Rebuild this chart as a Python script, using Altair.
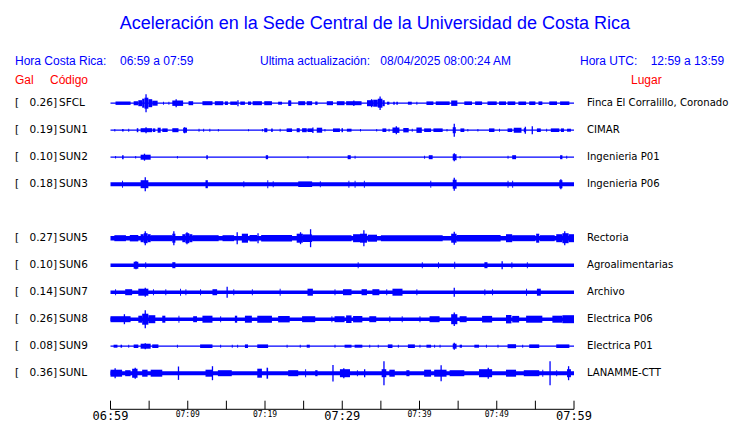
import altair as alt
import pandas as pd

BLUE = "#0000ff"
RED = "#ff0000"

# ---------------- data ----------------
TITLE = "Aceleración en la Sede Central de la Universidad de Costa Rica"
HDR_CR_LABEL = "Hora Costa Rica:"
HDR_CR_RANGE = "06:59 a 07:59"
HDR_UPD_LABEL = "Ultima actualización:"
HDR_UPD_VALUE = "08/04/2025 08:00:24 AM"
HDR_UTC_LABEL = "Hora UTC:"
HDR_UTC_RANGE = "12:59 a 13:59"

CODES = ["SFCL", "SUN1", "SUN2", "SUN3", "SUN5", "SUN6", "SUN7", "SUN8", "SUN9", "SUNL"]
GAL = [0.26, 0.19, 0.10, 0.18, 0.27, 0.10, 0.14, 0.26, 0.08, 0.36]
PLACES = ["Finca El Corralillo, Coronado", "CIMAR", "Ingenieria P01", "Ingenieria P06",
          "Rectoria", "Agroalimentarias", "Archivo", "Electrica P06", "Electrica P01", "LANAMME-CTT"]
ROWS = [0, 1, 2, 3, 5, 6, 7, 8, 9, 10]          # row slot (slot 4 is empty)
BASE_AMP = [0.6, 0.6, 0.6, 2.0, 2.3, 1.7, 1.7, 1.7, 0.6, 2.0]   # background noise half-amplitude
AMP_PER_ROW = 27.0                                # amplitude units per row slot

# bursts: (start minute, end minute, half amplitude); minutes from 06:59
SEG_SFCL = [(0.65, 2.6, 1.7), (3.0, 3.6, 2.0), (3.6, 4.1, 3.0), (4.1, 4.4, 4.5), (4.4, 4.9, 5.5),
            (4.9, 5.4, 4.0), (5.4, 6.1, 2.5), (6.8, 6.9, 1.5),
            (7.5, 7.6, 1.5), (8.0, 9.4, 2.7), (10.1, 10.7, 2.0), (11.9, 13.2, 2.0), (13.5, 14.6, 2.0),
            (14.8, 15.2, 1.8), (15.5, 16.4, 1.7), (16.8, 17.4, 1.7), (17.8, 18.2, 1.7), (18.4, 19.6, 2.0),
            (19.9, 20.9, 2.0), (21.7, 22.2, 1.5), (23.0, 23.4, 2.7), (24.3, 25.2, 2.0), (25.4, 26.1, 2.0),
            (26.5, 26.8, 1.7), (28.0, 28.8, 2.0), (29.3, 30.3, 2.0), (30.5, 32.5, 2.0),
            (33.2, 34.0, 3.0), (34.0, 34.6, 3.5), (34.6, 35.2, 4.5), (35.2, 35.5, 3.0),
            (35.8, 36.1, 1.5), (36.6, 36.8, 1.5), (37.0, 37.2, 1.5), (38.5, 39.0, 1.5), (39.6, 39.7, 1.5),
            (40.9, 41.8, 1.8), (42.1, 43.9, 1.8), (44.1, 44.9, 2.7), (45.8, 46.8, 1.8), (47.2, 48.1, 1.8),
            (48.8, 50.0, 1.8), (50.3, 51.2, 1.8), (51.4, 52.4, 1.8), (52.8, 53.8, 1.8), (54.2, 55.0, 1.8),
            (55.4, 55.9, 1.8), (56.8, 57.8, 1.8), (58.2, 59.4, 1.8)]
SPK_SFCL = [(4.6, 9.0), (8.5, 4.0), (16.5, 3.0), (23.2, 2.7), (31.5, 2.7), (33.8, 4.0), (34.9, 6.7)]

SEG_SUN1 = [(0.5, 0.6, 1.2), (1.5, 1.7, 1.2), (2.3, 2.4, 1.5), (3.4, 3.6, 2.0), (3.9, 5.4, 2.0),
            (5.5, 5.8, 1.8), (6.1, 6.5, 2.5), (6.7, 7.4, 1.8), (8.0, 8.8, 2.0), (9.4, 9.9, 2.5),
            (11.4, 11.5, 1.5), (12.0, 12.1, 1.5), (12.8, 12.9, 1.5), (13.9, 14.0, 1.2), (17.8, 17.9, 1.0),
            (19.6, 19.7, 1.2), (19.9, 20.3, 2.0), (20.8, 21.0, 1.8), (21.9, 22.0, 1.5), (22.8, 23.5, 1.8),
            (24.1, 24.5, 2.0), (24.8, 25.4, 2.0), (25.5, 26.2, 1.8), (26.7, 27.4, 2.5), (27.7, 27.8, 1.2),
            (28.8, 29.7, 1.8), (29.9, 30.1, 2.0), (30.6, 31.2, 1.5), (32.3, 32.4, 1.2), (34.4, 34.5, 1.2),
            (35.2, 35.7, 1.8), (36.0, 36.1, 1.5), (36.5, 37.4, 2.7), (37.9, 38.6, 2.2), (39.0, 39.1, 1.5),
            (39.6, 40.3, 2.7), (40.6, 41.5, 1.8), (41.8, 43.0, 1.8), (43.5, 43.6, 1.2), (44.3, 44.7, 3.0),
            (45.3, 45.8, 1.8), (46.2, 46.3, 1.2), (47.5, 47.6, 1.2), (49.0, 49.7, 1.8), (50.3, 50.4, 1.5),
            (51.4, 52.0, 1.8), (52.2, 53.2, 2.5), (53.5, 53.8, 2.0), (55.2, 55.7, 1.8), (56.4, 56.5, 1.5),
            (57.0, 58.1, 1.8), (58.3, 58.7, 1.8), (59.1, 59.6, 1.5)]
SPK_SUN1 = [(4.6, 3.0), (9.6, 3.0), (26.2, 2.8), (37.0, 4.0), (44.5, 6.5), (53.7, 3.5), (54.6, 4.0)]

SEG_SUN2 = [(0.6, 0.7, 1.2), (1.5, 1.7, 2.0), (3.2, 3.3, 1.2), (3.9, 5.2, 2.5), (8.6, 8.7, 1.2),
            (12.4, 12.6, 2.0), (20.1, 20.4, 2.0), (25.5, 25.6, 1.2), (30.7, 31.1, 2.0), (31.6, 31.7, 1.5),
            (40.6, 40.7, 1.5), (41.2, 41.7, 2.0), (44.3, 44.8, 3.0), (45.2, 45.3, 1.2), (51.4, 51.5, 1.5),
            (52.0, 52.5, 2.0), (58.2, 58.5, 2.0), (59.0, 59.1, 1.5)]
SPK_SUN2 = [(4.4, 3.5), (44.5, 4.0)]

SEG_SUN3 = [(1.5, 1.6, 3.5), (3.9, 4.9, 4.0), (12.3, 12.6, 4.0), (17.2, 17.3, 3.0), (20.3, 20.4, 4.0),
            (21.0, 21.1, 3.0), (24.3, 26.1, 2.8), (27.1, 27.2, 3.0), (30.8, 30.9, 3.5), (31.6, 31.7, 3.5),
            (32.8, 32.9, 3.5), (41.4, 41.5, 3.5), (44.3, 44.8, 4.5), (51.4, 51.5, 3.5), (52.0, 52.1, 3.5),
            (58.1, 58.5, 4.0)]
SPK_SUN3 = [(4.5, 7.0), (44.5, 6.5), (58.3, 5.0)]

SEG_SUN5 = [(0.5, 2.0, 3.0), (2.5, 3.6, 3.2), (3.9, 4.3, 4.0), (4.3, 4.8, 5.0), (4.8, 5.2, 4.0),
            (5.2, 8.0, 3.0), (8.0, 8.4, 4.5),
            (9.3, 9.7, 4.0), (9.7, 10.2, 5.0), (10.2, 10.6, 4.0), (10.6, 14.0, 3.0), (14.5, 16.0, 3.0),
            (17.0, 17.8, 4.5), (18.0, 19.0, 3.2),
            (19.5, 23.5, 3.2), (24.1, 24.9, 4.5), (24.9, 26.1, 3.8), (26.1, 31.2, 3.0),
            (31.4, 32.3, 4.0), (32.3, 33.2, 4.5), (33.3, 34.5, 3.5),
            (35.0, 43.0, 3.0), (44.1, 44.8, 4.5), (44.8, 50.5, 3.3), (51.2, 52.0, 4.0), (52.0, 55.0, 3.0),
            (55.1, 55.5, 4.5), (55.6, 57.5, 3.0), (57.7, 58.5, 4.0), (58.5, 59.3, 5.0), (59.3, 60.0, 4.0)]
SPK_SUN5 = [(4.5, 7.0), (8.2, 7.0), (9.9, 6.0), (16.4, 6.0), (19.1, 5.0), (24.6, 6.0), (25.9, 9.0),
            (32.8, 8.0), (44.5, 6.5), (58.8, 7.0)]

SEG_SUN6 = [(3.0, 3.6, 3.5), (4.5, 4.6, 3.0), (8.0, 8.4, 3.0), (32.0, 32.1, 3.0), (40.3, 40.4, 3.0),
            (42.4, 42.5, 3.0), (44.5, 44.6, 3.5), (48.4, 48.8, 3.0), (51.9, 52.0, 3.0), (53.9, 54.0, 3.0)]
SPK_SUN6 = [(3.3, 4.0), (50.7, 4.0)]

SEG_SUN7 = [(0.6, 0.7, 3.0), (1.9, 2.8, 3.0), (3.6, 4.9, 3.5), (5.5, 5.6, 3.0), (7.1, 7.2, 3.0),
            (9.0, 9.1, 3.5), (9.7, 9.8, 3.0), (11.6, 11.7, 3.0), (13.2, 13.8, 3.0), (15.9, 16.0, 3.0),
            (18.3, 18.4, 3.0), (21.9, 22.0, 3.5), (25.5, 26.2, 3.5), (29.0, 29.1, 3.0), (30.1, 31.2, 3.0),
            (32.5, 33.2, 3.0), (33.9, 34.8, 3.0), (35.7, 35.8, 3.0), (36.5, 37.8, 3.5), (39.6, 39.7, 3.0),
            (48.4, 48.5, 3.0), (49.4, 49.5, 3.0), (53.8, 53.9, 3.5), (55.2, 55.7, 3.5)]
SPK_SUN7 = [(4.5, 4.5), (15.1, 5.5), (44.5, 4.5)]

SEG_SUN8 = [(0.0, 2.6, 3.0), (3.6, 4.1, 3.5), (4.1, 4.9, 5.5), (4.9, 5.8, 4.0), (6.7, 7.1, 3.5),
            (8.8, 8.9, 3.5), (10.7, 11.2, 3.0),
            (11.9, 13.2, 3.5), (14.2, 14.3, 3.0), (16.1, 16.4, 3.5), (17.4, 18.3, 3.5), (19.0, 20.9, 3.5),
            (21.7, 23.2, 3.2), (24.8, 26.5, 3.0), (28.6, 28.7, 3.0), (29.0, 30.3, 3.0), (30.5, 31.2, 3.8),
            (31.4, 32.6, 3.2), (33.5, 34.4, 3.0), (36.1, 36.2, 3.0), (37.7, 37.8, 3.0), (40.0, 40.1, 3.0),
            (41.3, 42.6, 3.0), (44.1, 44.9, 5.0), (45.2, 46.1, 3.0), (48.1, 49.4, 3.3), (51.2, 51.9, 4.2),
            (52.0, 52.9, 3.3), (53.8, 55.9, 3.5), (57.2, 58.5, 3.5), (58.5, 60.0, 4.0)]
SPK_SUN8 = [(1.8, 5.0), (4.5, 9.0), (44.5, 6.7)]

SEG_SUN9 = [(0.4, 0.9, 1.5), (1.3, 1.5, 1.5), (2.3, 2.4, 1.5), (3.0, 3.6, 1.8), (3.9, 5.2, 2.5),
            (5.4, 6.2, 1.8), (8.6, 8.7, 1.5), (11.6, 13.2, 1.8), (14.2, 14.3, 1.5), (15.7, 15.8, 1.5),
            (16.4, 16.5, 1.5), (17.4, 17.8, 1.8), (19.0, 20.4, 1.8), (22.8, 22.9, 1.5), (24.5, 24.6, 1.5),
            (25.4, 25.8, 1.5), (29.0, 29.1, 1.5), (30.3, 31.2, 1.5), (31.6, 32.6, 1.5), (33.5, 33.6, 1.5),
            (34.6, 34.7, 1.5), (35.9, 36.5, 1.8), (37.2, 37.3, 1.5), (38.5, 39.4, 1.8), (40.0, 40.1, 1.5),
            (40.9, 41.5, 1.5), (41.9, 42.0, 1.5), (42.6, 42.7, 1.5), (44.3, 44.8, 2.5), (45.2, 45.5, 1.5),
            (47.1, 47.7, 1.5), (48.6, 48.7, 1.5), (50.1, 50.2, 1.5), (51.4, 52.5, 2.0), (53.3, 53.4, 1.5),
            (54.2, 55.5, 1.8), (57.7, 59.4, 1.8)]
SPK_SUN9 = [(4.5, 3.0), (44.5, 3.5)]

SEG_SUNL = [(0.0, 1.5, 3.5), (1.9, 2.6, 3.0), (2.8, 3.5, 4.5), (4.1, 4.8, 3.5), (5.2, 6.7, 3.5),
            (12.3, 13.2, 3.5), (13.9, 15.7, 3.0), (19.0, 19.6, 4.5), (20.2, 20.4, 5.5), (23.0, 24.3, 3.0),
            (25.2, 25.3, 4.0), (26.5, 26.8, 3.0), (29.7, 31.0, 4.0), (31.9, 32.0, 3.0), (35.1, 35.7, 4.0),
            (36.1, 36.8, 3.5), (38.3, 38.7, 3.0), (40.6, 41.5, 3.5), (41.9, 43.5, 3.5), (43.9, 45.8, 3.0),
            (47.7, 49.4, 4.0), (51.2, 52.5, 3.5), (53.5, 55.5, 3.0), (55.9, 56.0, 3.5), (57.7, 57.8, 3.0),
            (59.1, 59.6, 4.0)]
SPK_SUNL = [(0.6, 5.0), (3.2, 5.5), (8.8, 6.7), (13.2, 7.0), (28.8, 8.3), (30.2, 5.0), (32.9, 4.0),
            (35.4, 12.0), (42.8, 8.0), (48.9, 5.5), (56.9, 12.0), (59.3, 7.0)]

SEGS = [SEG_SFCL, SEG_SUN1, SEG_SUN2, SEG_SUN3, SEG_SUN5, SEG_SUN6, SEG_SUN7, SEG_SUN8, SEG_SUN9, SEG_SUNL]
SPKS = [SPK_SFCL, SPK_SUN1, SPK_SUN2, SPK_SUN3, SPK_SUN5, SPK_SUN6, SPK_SUN7, SPK_SUN8, SPK_SUN9, SPK_SUNL]

TICK_MIN = list(range(0, 61, 5))
BIG_TICK_MIN = [0, 30, 60]
BIG_TICK_LBL = ["06:59", "07:29", "07:59"]
SMALL_TICK_MIN = [10, 20, 40, 50]
SMALL_TICK_LBL = ["07:09", "07:19", "07:39", "07:49"]
SPAN = [0, 60]

# ---------------- tables ----------------
base_rows, seg_rows, spk_rows, lab_rows = [], [], [], []
for code, gal, place, row, base, segs, spks in zip(CODES, GAL, PLACES, ROWS, BASE_AMP, SEGS, SPKS):
    base_rows.append(dict(t0=SPAN[0], t1=SPAN[1], y0=row - base / AMP_PER_ROW, y1=row + base / AMP_PER_ROW))
    for t0, t1, a in segs:
        seg_rows.append(dict(t0=t0, t1=max(t1, t0 + 0.12), y0=row - a / AMP_PER_ROW, y1=row + a / AMP_PER_ROW))
    for t, a in spks:
        spk_rows.append(dict(t=t, y0=row - a / AMP_PER_ROW, y1=row + a / AMP_PER_ROW))
    lab_rows.append(dict(row=row, code=code, gal=f"{gal:.2f}]", place=place))

base_df = pd.DataFrame(base_rows)
seg_df = pd.DataFrame(seg_rows)
spk_df = pd.DataFrame(spk_rows)
lab_df = pd.DataFrame(lab_rows)
tick_df = pd.DataFrame({"t": TICK_MIN})
big_df = pd.DataFrame({"t": BIG_TICK_MIN, "lbl": BIG_TICK_LBL})
small_df = pd.DataFrame({"t": SMALL_TICK_MIN, "lbl": SMALL_TICK_LBL})
span_df = pd.DataFrame({"t0": [SPAN[0]], "t1": [SPAN[1]]})

# ---------------- scales (whole view) ----------------
W, H = 724, 415
X0_PX, PX_PER_MIN = 102.5, 463.5 / 60
Y0_PX, PX_PER_ROW = 95.2, 27.0
xs = alt.Scale(domain=[-X0_PX / PX_PER_MIN, (W - X0_PX) / PX_PER_MIN], nice=False, zero=False)
ys = alt.Scale(domain=[-Y0_PX / PX_PER_ROW, (H - Y0_PX) / PX_PER_ROW], nice=False, zero=False, reverse=True)


def X(f):
    return alt.X(f, type="quantitative", scale=xs, axis=None)


def Y(f):
    return alt.Y(f, type="quantitative", scale=ys, axis=None)


base_layer = alt.Chart(base_df).mark_rect(color=BLUE).encode(x=X("t0"), x2="t1", y=Y("y0"), y2="y1")
seg_layer = alt.Chart(seg_df).mark_rect(color=BLUE).encode(x=X("t0"), x2="t1", y=Y("y0"), y2="y1")
spk_layer = alt.Chart(spk_df).mark_rule(color=BLUE, strokeWidth=1.3).encode(x=X("t"), y=Y("y0"), y2="y1")

LBL_FONT = "DejaVu Sans"
LEFT_SIZE = 10.5
PLACE_SIZE = 10.1
bracket = alt.Chart(lab_df).mark_text(align="left", baseline="middle", font=LBL_FONT, fontSize=LEFT_SIZE, color="black").encode(
    x=alt.value(7), y=Y("row"), text=alt.value("["))
gal_txt = alt.Chart(lab_df).mark_text(align="right", baseline="middle", font=LBL_FONT, fontSize=LEFT_SIZE, color="black").encode(
    x=alt.value(49), y=Y("row"), text="gal:N")
code_txt = alt.Chart(lab_df).mark_text(align="left", baseline="middle", font=LBL_FONT, fontSize=LEFT_SIZE, color="black").encode(
    x=alt.value(51), y=Y("row"), text="code:N")
place_txt = alt.Chart(lab_df).mark_text(align="left", baseline="middle", font=LBL_FONT, fontSize=PLACE_SIZE, color="black").encode(
    x=alt.value(579), y=Y("row"), text="place:N")

axis_line = alt.Chart(span_df).mark_rule(color="black", strokeWidth=1).encode(x=X("t0"), x2="t1", y=alt.value(401.3))
ticks = alt.Chart(tick_df).mark_rule(color="black", strokeWidth=1).encode(x=X("t"), y=alt.value(392.7), y2=alt.value(401.3))
big_lbl = alt.Chart(big_df).mark_text(align="center", baseline="middle", font="DejaVu Sans Mono", fontSize=12, color="black").encode(
    x=X("t"), y=alt.value(408), text="lbl:N")
small_lbl = alt.Chart(small_df).mark_text(align="center", baseline="middle", font="DejaVu Sans Mono", fontSize=8, color="black").encode(
    x=X("t"), y=alt.value(406.5), text="lbl:N")


def txt(s, x, y, color, size, align="left", font="Liberation Sans"):
    return alt.Chart(pd.DataFrame({"s": [s]})).mark_text(
        align=align, baseline="alphabetic", font=font, fontSize=size, color=color).encode(
        x=alt.value(x), y=alt.value(y), text="s:N")


headers = [
    txt(TITLE, 366.8, 21.3, BLUE, 18, align="center"),
    txt(HDR_CR_LABEL, 7, 57, BLUE, 12),
    txt(HDR_CR_RANGE, 112, 57, BLUE, 12),
    txt(HDR_UPD_LABEL, 252, 57, BLUE, 12),
    txt(HDR_UPD_VALUE, 372.3, 57, BLUE, 12),
    txt(HDR_UTC_LABEL, 572, 57, BLUE, 12),
    txt(HDR_UTC_RANGE, 642.7, 57, BLUE, 12),
    txt("Gal", 7, 76.3, RED, 12),
    txt("Código", 42, 76.3, RED, 12),
    txt("Lugar", 623, 76.3, RED, 12),
]

chart = alt.layer(
    base_layer, seg_layer, spk_layer, bracket, gal_txt, code_txt, place_txt,
    axis_line, ticks, big_lbl, small_lbl, *headers
).properties(
    width=W, height=H, autosize=alt.AutoSizeParams(type="none"), padding=0, background="white"
).configure_view(strokeWidth=0)

chart.save("out.html", embed_options={"renderer": "svg", "actions": False})
